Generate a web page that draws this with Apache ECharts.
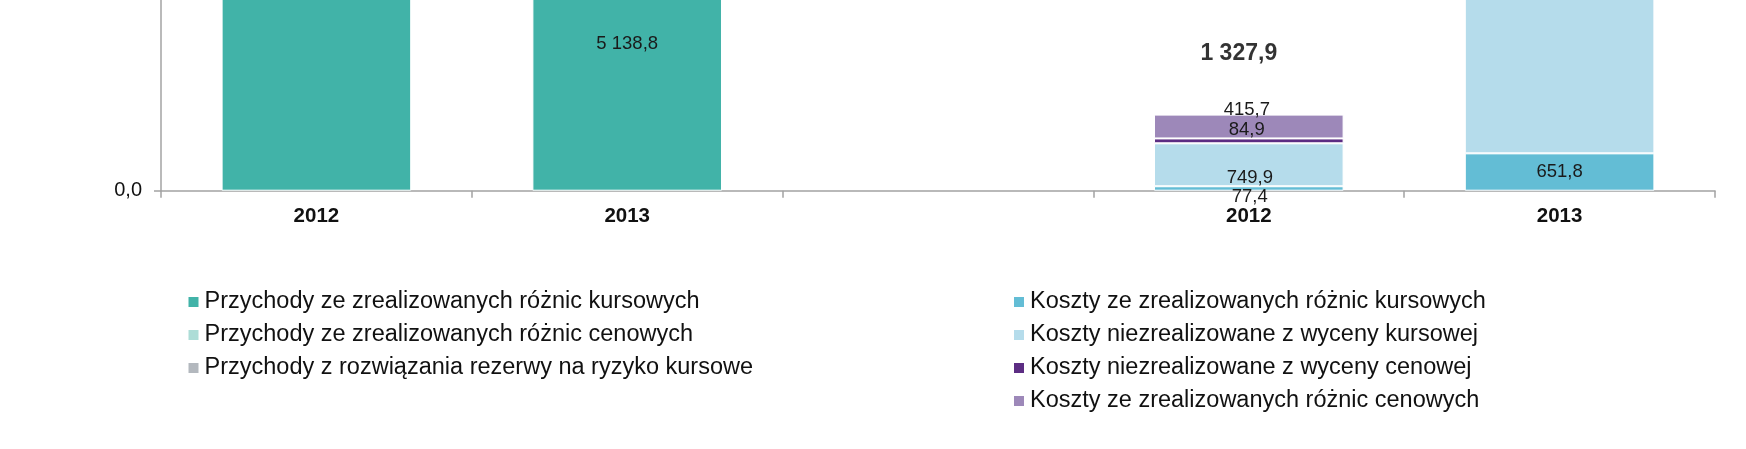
<!DOCTYPE html>
<html>
<head>
<meta charset="utf-8">
<script src="https://cdn.jsdelivr.net/npm/echarts@6/dist/echarts.min.js"></script>
<style>
html,body{margin:0;padding:0;background:#fff;overflow:hidden;width:1746px;height:449px;}
#wrap{position:relative;width:1746px;height:449px;overflow:hidden;}
#c{position:absolute;left:0;top:-500px;width:1746px;height:949px;}
</style>
</head>
<body>
<div id="wrap"><div id="c"></div></div>
<script>
// ---- data ----
var categories = ["2012", "2013", "", "2012", "2013"];
var przychodyKursowe   = [7200, 5138.8, null, null, null];
var przychodyCenowe    = [null, null, null, null, null];
var przychodyRezerwa   = [null, null, null, null, null];
var kosztyKursowe      = [null, null, null, 77.4, 651.8];
var kosztyWycenaKurs   = [null, null, null, 749.9, 6000];
var kosztyWycenaCen    = [null, null, null, 84.9, null];
var kosztyCenowe       = [null, null, null, 415.7, null];
var totalKoszty2012    = [null, null, null, 1327.9, null];

var names = [
  "Przychody ze zrealizowanych różnic kursowych",
  "Przychody ze zrealizowanych różnic cenowych",
  "Przychody z rozwiązania rezerwy na ryzyko kursowe",
  "Koszty ze zrealizowanych różnic kursowych",
  "Koszty niezrealizowane z wyceny kursowej",
  "Koszty niezrealizowane z wyceny cenowej",
  "Koszty ze zrealizowanych różnic cenowych"
];
var colors = ["#41B3A8", "#ADDDD7", "#B3B8BE", "#63BDD5", "#B5DCEB", "#5C2D83", "#9D88B9"];

function fmt(v) {
  var s = Number(v).toFixed(1).split(".");
  s[0] = s[0].replace(/\B(?=(\d{3})+(?!\d))/g, " ");
  return s[0] + "," + s[1];
}

var SHIFT = 500; // chart canvas is taller than the window; its top part is cut off like the reference
var FONT = "'Liberation Sans', Arial, sans-serif";
var labelBase = {show: true, position: "inside", color: "#1a1a1a", fontSize: 18.5, fontFamily: FONT,
  formatter: function (p) { return fmt(p.value); }};

function withLabels(arr, offsets) {
  return arr.map(function (v, i) {
    if (v == null) return null;
    var o = {value: v};
    if (offsets && offsets[i]) o.label = {offset: offsets[i]};
    return o;
  });
}

function barSeries(idx, data) {
  return {
    name: names[idx], type: "bar", stack: "s", barWidth: "61%",
    itemStyle: {color: colors[idx], borderColor: "#fff", borderWidth: 1},
    label: labelBase, data: data
  };
}

var legendText = {fontSize: 23.5, color: "#111", fontFamily: FONT, lineHeight: 23, padding: [0, 0, 0, 1]};

var chart = echarts.init(document.getElementById("c"));
chart.setOption({
  animation: false,
  backgroundColor: "#fff",
  grid: {left: 161, right: 31, top: 190.7 + SHIFT - 573, bottom: 258.3, containLabel: false},
  xAxis: {
    type: "category", data: categories,
    axisLine: {lineStyle: {color: "#a3a3a3", width: 1.5}},
    axisTick: {show: true, length: 7, lineStyle: {color: "#a3a3a3", width: 1.5}},
    axisLabel: {color: "#111", fontSize: 20.5, fontWeight: "bold", fontFamily: FONT, margin: 15, interval: 0}
  },
  yAxis: {
    type: "value", min: 0, max: 10000, interval: 5000,
    splitLine: {show: false},
    axisLine: {show: true, lineStyle: {color: "#a3a3a3", width: 1.5}},
    axisTick: {show: true, length: 7, lineStyle: {color: "#a3a3a3", width: 1.5}},
    axisLabel: {color: "#111", fontSize: 20, fontFamily: FONT, margin: 19, formatter: function (v) { return fmt(v); }}
  },
  legend: [
    {
      orient: "vertical", left: 188.5, top: 290 + SHIFT, padding: 0, itemWidth: 10, itemHeight: 10, itemGap: 9,
      icon: "rect", data: names.slice(0, 3), itemStyle: {borderWidth: 0},
      textStyle: legendText
    },
    {
      orient: "vertical", left: 1014, top: 290 + SHIFT, padding: 0, itemWidth: 10, itemHeight: 10, itemGap: 9,
      icon: "rect", data: names.slice(3), itemStyle: {borderWidth: 0},
      textStyle: legendText
    }
  ],
  series: [
    barSeries(0, withLabels(przychodyKursowe)),
    barSeries(1, withLabels(przychodyCenowe)),
    barSeries(2, withLabels(przychodyRezerwa)),
    barSeries(3, withLabels(kosztyKursowe, {3: [1, 8.5]})),
    barSeries(4, withLabels(kosztyWycenaKurs, {3: [1, 13.2]})),
    barSeries(5, withLabels(kosztyWycenaCen, {3: [-2, -10.9]})),
    barSeries(6, withLabels(kosztyCenowe, {3: [-2, -16.5]})),
    {
      name: "Suma", type: "scatter", symbolSize: 0, data: totalKoszty2012,
      label: {show: true, position: "inside", offset: [-10, -61], color: "#000", fontSize: 23,
        fontWeight: "bold", fontFamily: FONT, formatter: function (p) { return fmt(p.value); }},
      z: 5
    }
  ]
});
</script>
</body>
</html>
